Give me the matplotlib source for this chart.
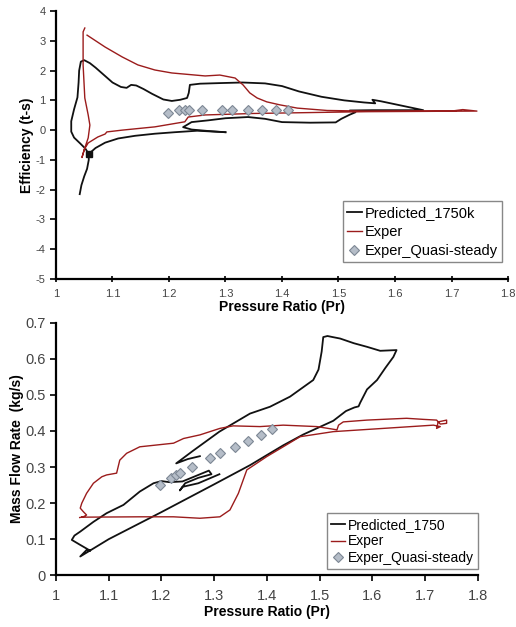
import numpy as np
import matplotlib
matplotlib.use('Agg')
import matplotlib.pyplot as plt

plt.rcParams['font.family'] = ['Liberation Sans', 'DejaVu Sans']
plt.rcParams['axes.unicode_minus'] = False

# Efficiency vs pressure ratio (upper panel)
eff_pred_pr = [1.042, 1.045, 1.050, 1.055, 1.058, 1.058, 1.052, 1.043, 1.032, 1.027,
               1.027, 1.032, 1.038, 1.040, 1.041, 1.044, 1.050, 1.060, 1.070, 1.085,
               1.100, 1.115, 1.125, 1.133, 1.142, 1.155, 1.170, 1.190, 1.205, 1.220,
               1.232, 1.235, 1.237, 1.255, 1.290, 1.330, 1.370, 1.400, 1.430, 1.470,
               1.510, 1.545, 1.565, 1.560, 1.575, 1.610, 1.650, 1.600, 1.560, 1.520,
               1.530, 1.520, 1.505, 1.495, 1.450, 1.400, 1.370, 1.340, 1.300, 1.270,
               1.240, 1.225, 1.240, 1.270, 1.300]
eff_pred = [-2.15, -1.85, -1.55, -1.30, -1.00, -0.80, -0.62, -0.45, -0.25, -0.05,
            0.30, 0.70, 1.10, 1.60, 2.00, 2.30, 2.35, 2.25, 2.10, 1.85,
            1.60, 1.45, 1.42, 1.52, 1.50, 1.38, 1.22, 1.03, 0.98, 1.02,
            1.08, 1.25, 1.52, 1.56, 1.58, 1.60, 1.57, 1.48, 1.30, 1.12,
            1.00, 0.93, 0.90, 1.02, 0.97, 0.83, 0.67, 0.67, 0.67, 0.66,
            0.60, 0.52, 0.38, 0.26, 0.25, 0.27, 0.38, 0.44, 0.40, 0.33,
            0.27, 0.10, 0.02, -0.03, -0.07]
eff_pred_b_pr = [1.058, 1.070, 1.087, 1.110, 1.140, 1.175, 1.210, 1.250, 1.300]
eff_pred_b = [-0.80, -0.60, -0.42, -0.28, -0.19, -0.12, -0.07, -0.02, -0.07]

eff_exp_pr = [1.055, 1.087, 1.117, 1.145, 1.175, 1.205, 1.264, 1.290, 1.317, 1.331,
              1.343, 1.356, 1.373, 1.396, 1.427, 1.480, 1.550, 1.620, 1.700, 1.720,
              1.745, 1.650, 1.550, 1.450, 1.350, 1.264, 1.234, 1.228, 1.175, 1.117,
              1.090, 1.087, 1.074, 1.057, 1.050, 1.046, 1.051, 1.057, 1.060, 1.057,
              1.051, 1.048, 1.048, 1.051]
eff_exp = [3.19, 2.79, 2.46, 2.19, 2.02, 1.92, 1.82, 1.85, 1.75, 1.52,
           1.25, 1.08, 0.95, 0.85, 0.74, 0.66, 0.64, 0.64, 0.64, 0.69,
           0.64, 0.63, 0.62, 0.59, 0.56, 0.51, 0.44, 0.28, 0.11, 0.00,
           -0.06, -0.13, -0.23, -0.43, -0.65, -0.92, -0.60, -0.26, 0.17, 0.51,
           1.08, 2.19, 3.30, 3.43]

qs_pr = [1.198, 1.218, 1.228, 1.236, 1.258, 1.293, 1.311, 1.340, 1.364, 1.389, 1.410]
qs_eff = [0.59, 0.66, 0.66, 0.67, 0.66, 0.66, 0.66, 0.66, 0.66, 0.66, 0.66]

# Mass flow rate vs pressure ratio (lower panel)
mf_pred_pr = [1.273, 1.250, 1.228, 1.260, 1.310, 1.368, 1.406, 1.444, 1.488, 1.498,
              1.504, 1.507, 1.515, 1.525, 1.539, 1.565, 1.590, 1.615, 1.646, 1.640,
              1.625, 1.609, 1.590, 1.577, 1.574, 1.566, 1.550, 1.526, 1.469, 1.431,
              1.400, 1.368, 1.300, 1.200, 1.100, 1.046, 1.058, 1.065, 1.045, 1.030,
              1.035, 1.046, 1.071, 1.096, 1.128, 1.159, 1.185, 1.200, 1.215, 1.240,
              1.265, 1.290, 1.295, 1.270, 1.245, 1.235, 1.240, 1.270, 1.310]
mf_pred = [0.330, 0.322, 0.310, 0.345, 0.398, 0.448, 0.467, 0.495, 0.541, 0.570,
           0.620, 0.660, 0.663, 0.660, 0.656, 0.643, 0.633, 0.622, 0.624, 0.605,
           0.575, 0.541, 0.515, 0.478, 0.468, 0.465, 0.455, 0.428, 0.390, 0.360,
           0.333, 0.305, 0.252, 0.175, 0.100, 0.052, 0.070, 0.068, 0.085, 0.098,
           0.110, 0.121, 0.148, 0.172, 0.195, 0.232, 0.255, 0.261, 0.258, 0.260,
           0.275, 0.290, 0.280, 0.270, 0.255, 0.235, 0.245, 0.255, 0.280]

mf_exp_pr = [1.049, 1.159, 1.223, 1.273, 1.311, 1.330, 1.346, 1.362, 1.400, 1.431,
             1.463, 1.526, 1.621, 1.716, 1.729, 1.722, 1.725, 1.741, 1.741, 1.729,
             1.722, 1.697, 1.665, 1.634, 1.590, 1.545, 1.536, 1.533, 1.495, 1.431,
             1.387, 1.336, 1.311, 1.273, 1.242, 1.223, 1.191, 1.159, 1.134, 1.121,
             1.115, 1.096, 1.087, 1.071, 1.058, 1.049, 1.046, 1.052, 1.058, 1.052,
             1.045]
mf_exp = [0.161, 0.162, 0.162, 0.158, 0.162, 0.181, 0.227, 0.292, 0.329, 0.356,
          0.384, 0.398, 0.407, 0.416, 0.412, 0.407, 0.425, 0.430, 0.421, 0.419,
          0.430, 0.432, 0.435, 0.433, 0.430, 0.425, 0.416, 0.403, 0.412, 0.416,
          0.412, 0.414, 0.407, 0.389, 0.379, 0.366, 0.361, 0.356, 0.338, 0.319,
          0.283, 0.278, 0.273, 0.255, 0.227, 0.200, 0.186, 0.176, 0.167, 0.162,
          0.160]

qs_mf = [0.250, 0.269, 0.278, 0.284, 0.301, 0.326, 0.338, 0.356, 0.373, 0.389, 0.404]

pr_labels = ['1', '1.1', '1.2', '1.3', '1.4', '1.5', '1.6', '1.7', '1.8']

red = '#9b1c1c'
dia = dict(marker='D', ls='none', ms=5, mfc='#b5bdc8', mec='#7d8794', mew=0.8)

fig = plt.figure(figsize=(5.16, 6.27), dpi=100)
ax1 = fig.add_axes([0.1085, 0.555, 0.876, 0.4274])
ax2 = fig.add_axes([0.1085, 0.0825, 0.8173, 0.4029])

# upper panel
ax1.plot(eff_pred_pr, eff_pred, color='#111111', lw=1.3, label='Predicted_1750k')
ax1.plot(eff_pred_b_pr, eff_pred_b, color='#111111', lw=1.3)
ax1.plot([1.058], [-0.80], marker='s', ms=5, color='#111111')
ax1.plot(eff_exp_pr, eff_exp, color=red, lw=1.0, label='Exper')
ax1.plot(qs_pr, qs_eff, label='Exper_Quasi-steady', **dia)
ax1.set_xlim(1, 1.8)
ax1.set_ylim(-5, 4)
ax1.set_xticks(np.arange(1, 1.81, 0.1))
ax1.set_xticklabels(pr_labels)
ax1.set_yticks(range(-5, 5))
ax1.tick_params(axis='both', labelsize=8, width=1.2, length=4)
ax1.tick_params(axis='x', direction='inout', pad=5)
ax1.set_xlabel('Pressure Ratio (Pr)', fontsize=10, fontweight='bold', labelpad=1)
ax1.set_ylabel('Efficiency (t-s)', fontsize=10, fontweight='bold', labelpad=1)
leg1 = ax1.legend(loc='lower right', bbox_to_anchor=(1.003, 0.035), fontsize=10.5,
                  handlelength=1.0, handletextpad=0.2, borderpad=0.3,
                  labelspacing=0.35, fancybox=False, framealpha=1)
leg1.get_frame().set_edgecolor('#888888')

# lower panel
ax2.plot(mf_pred_pr, mf_pred, color='#111111', lw=1.3, label='Predicted_1750')
ax2.plot(mf_exp_pr, mf_exp, color=red, lw=1.0, label='Exper')
ax2.plot(qs_pr, qs_mf, label='Exper_Quasi-steady', **dia)
ax2.set_xlim(1, 1.8)
ax2.set_ylim(0, 0.7)
ax2.set_xticks(np.arange(1, 1.81, 0.1))
ax2.set_xticklabels(pr_labels)
ax2.set_yticks(np.arange(0, 0.71, 0.1))
ax2.set_yticklabels(['0', '0.1', '0.2', '0.3', '0.4', '0.5', '0.6', '0.7'])
ax2.tick_params(axis='both', labelsize=10.5, width=1.2, length=4)
ax2.tick_params(axis='x', pad=6)
ax2.set_xlabel('Pressure Ratio (Pr)', fontsize=10, fontweight='bold', labelpad=1)
ax2.set_ylabel('Mass Flow Rate  (kg/s)', fontsize=10, fontweight='bold', labelpad=1)
leg2 = ax2.legend(loc='lower right', bbox_to_anchor=(1.017, -0.004), fontsize=10,
                  handlelength=1.0, handletextpad=0.2, borderpad=0.3,
                  labelspacing=0.2, fancybox=False, framealpha=1)
leg2.get_frame().set_edgecolor('#888888')

for ax in (ax1, ax2):
    ax.spines['top'].set_visible(False)
    ax.spines['right'].set_visible(False)
    ax.spines['left'].set_linewidth(1.6)
    ax.spines['bottom'].set_linewidth(1.6)
    for lab in ax.get_xticklabels() + ax.get_yticklabels():
        lab.set_color('#444444')

fig.savefig('out.png', dpi=100)
plt.close()
